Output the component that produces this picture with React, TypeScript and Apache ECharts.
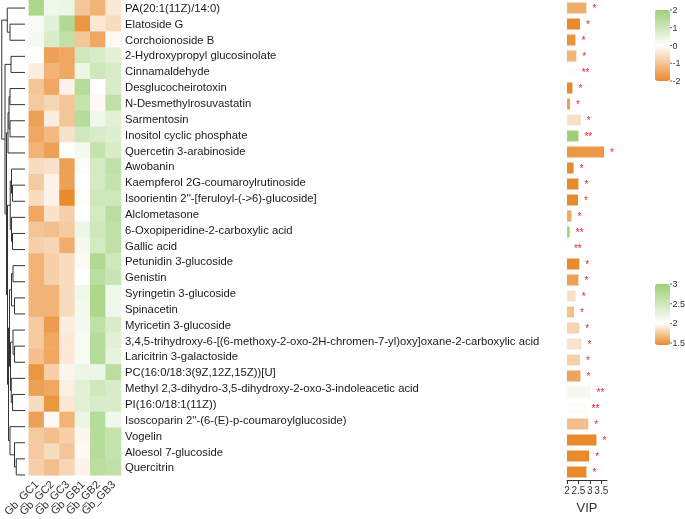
import React, { useEffect, useRef } from "react";
import * as echarts from "echarts";

const rowLabels = [
  "PA(20:1(11Z)/14:0)",
  "Elatoside G",
  "Corchoionoside B",
  "2-Hydroxypropyl glucosinolate",
  "Cinnamaldehyde",
  "Desglucocheirotoxin",
  "N-Desmethylrosuvastatin",
  "Sarmentosin",
  "Inositol cyclic phosphate",
  "Quercetin 3-arabinoside",
  "Awobanin",
  "Kaempferol 2G-coumaroylrutinoside",
  "Isoorientin 2''-[feruloyl-(->6)-glucoside]",
  "Alclometasone",
  "6-Oxopiperidine-2-carboxylic acid",
  "Gallic acid",
  "Petunidin 3-glucoside",
  "Genistin",
  "Syringetin 3-glucoside",
  "Spinacetin",
  "Myricetin 3-glucoside",
  "3,4,5-trihydroxy-6-[(6-methoxy-2-oxo-2H-chromen-7-yl)oxy]oxane-2-carboxylic acid",
  "Laricitrin 3-galactoside",
  "PC(16:0/18:3(9Z,12Z,15Z))[U]",
  "Methyl 2,3-dihydro-3,5-dihydroxy-2-oxo-3-indoleacetic acid",
  "PI(16:0/18:1(11Z))",
  "Isoscoparin 2''-(6-(E)-p-coumaroylglucoside)",
  "Vogelin",
  "Aloesol 7-glucoside",
  "Quercitrin",
];

const colLabels = ["Gb_GC1", "Gb_GC2", "Gb_GC3", "Gb_GB1", "Gb_GB2", "Gb_GB3"];

// z-scores, one row per metabolite, columns in colLabels order
const heatValues: number[][] = [
  [1.7, 0.3, 0.4, -1.0, -1.3, -0.4],
  [0.15, 0.6, 1.6, -1.8, -0.4, -0.6],
  [0.2, 0.8, 1.3, -1.0, -1.5, -0.1],
  [0.0, -1.6, -1.5, 1.0, 0.8, 0.6],
  [-0.3, -1.3, -1.5, 0.4, 1.0, 0.8],
  [-1.0, -1.5, -0.2, 1.5, 0.0, 0.8],
  [-0.9, -0.7, -1.0, 1.2, -0.1, 1.3],
  [-1.6, -0.3, -1.0, 1.5, 0.3, 0.6],
  [-1.5, -1.2, -0.5, 1.0, 0.8, 0.7],
  [-1.3, -1.6, 0.0, 0.2, 1.2, 0.8],
  [-0.6, -0.5, -1.6, -0.05, 0.9, 1.3],
  [-0.9, -0.2, -1.6, 0.0, 0.9, 1.2],
  [-0.6, -0.2, -2.0, 0.05, 1.0, 1.0],
  [-1.5, -0.5, -0.8, 0.0, 0.9, 1.4],
  [-1.0, -1.1, -0.9, 0.4, 1.0, 1.3],
  [-0.8, -0.7, -1.4, 0.2, 0.9, 1.3],
  [-1.3, -0.8, -0.6, -0.1, 1.6, 1.0],
  [-1.3, -0.8, -0.6, 0.0, 1.4, 1.1],
  [-1.3, -1.3, -0.6, 0.3, 1.7, 0.3],
  [-1.3, -1.3, -0.6, 0.2, 1.7, 0.3],
  [-0.9, -1.7, -0.3, 0.2, 1.3, 0.8],
  [-0.9, -1.5, -0.4, 0.15, 1.5, 0.6],
  [-1.1, -1.5, -0.4, 0.15, 1.5, 0.5],
  [-1.8, -0.8, -0.15, 0.4, 0.4, 1.4],
  [-1.6, -1.5, -0.25, 0.6, 1.0, 0.8],
  [-0.6, -1.8, -0.4, 0.6, 0.8, 0.8],
  [-1.6, -0.1, -1.3, 0.4, 1.5, 0.3],
  [-0.9, -1.1, -0.8, -0.15, 1.5, 1.2],
  [-0.9, -0.6, -1.0, -0.1, 1.5, 1.2],
  [-0.8, -1.1, -0.7, -0.2, 1.4, 1.3],
];

const vipValues = [
  2.85, 2.57, 2.37, 2.41, 2.38, 2.24, 2.13, 2.6, 2.5, 3.62,
  2.29, 2.5, 2.48, 2.2, 2.12, 2.04, 2.54, 2.5, 2.38, 2.31,
  2.54, 2.63, 2.57, 2.59, 3.03, 2.81, 2.93, 3.29, 2.97, 2.85,
];

const barScore = [
  1.62, 1.4, 1.5, 1.65, 2.0, 1.35, 1.55, 1.85, 3.0, 1.52,
  1.3, 1.38, 1.28, 1.6, 2.95, 2.0, 1.42, 1.55, 1.85, 1.7,
  1.8, 1.87, 1.78, 1.57, 2.1, 2.05, 1.7, 1.42, 1.43, 1.4,
];

const significance = [
  "*", "*", "*", "*", "**", "*", "*", "*", "**", "*",
  "*", "*", "*", "*", "**", "**", "*", "*", "*", "*",
  "*", "*", "*", "*", "**", "**", "*", "*", "*", "*",
];

const heatTicks = [2, 1, 0, -1, -2];
const scoreTicks = [3, 2.5, 2, 1.5];

// Row dendrogram: [left, right, height]; leaves are row indices
type Node = number | [Node, Node, number];
const dendrogram: Node = [
  [0, [1, 2, 6.0], 7.1],
  [
    [3, 4, 5.6],
    [
      [[[5, 6, 6.0], [7, 8, 6.0], 6.4], 9, 6.8],
      [
        [[10, [11, 12, 5.0], 5.4], [13, [14, 15, 5.0], 5.4], 5.9],
        [
          [
            [[16, 17, 4.8], [18, 19, 4.2], 5.4],
            [[20, [21, 22, 4.2], 4.8], [23, [24, 25, 5.0], 5.5], 5.8],
            6.2,
          ],
          [26, [27, [28, 29, 3.5], 4.2], 6.0],
          6.6,
        ],
        7.0,
      ],
      7.4,
    ],
    8.0,
  ],
  9.3,
];

const ORANGE = [233, 138, 44];
const GREEN = [158, 208, 119];
const mix = (a: number[], b: number[], t: number) =>
  "rgb(" + a.map((v, i) => Math.round(v + (b[i] - v) * t)).join(",") + ")";

export default function App() {
  const ref = useRef<HTMLDivElement>(null);
  useEffect(() => {
    if (!ref.current) return;
    const chart = echarts.init(ref.current, undefined, { renderer: "svg" });

    const heatData: number[][] = [];
    heatValues.forEach((row, r) => row.forEach((v, c) => heatData.push([c, r, v])));

    const barData = vipValues.map((v, i) => [v, i, barScore[i]]);

    // dendrogram segments
    const segs: number[][] = [];
    const walk = (n: Node): [number, number] => {
      if (typeof n === "number") return [n, 0];
      const [y1, h1] = walk(n[0]);
      const [y2, h2] = walk(n[1]);
      const h = n[2];
      segs.push([h1, y1, h, y1]);
      segs.push([h2, y2, h, y2]);
      segs.push([h, y1, h, y2]);
      return [(y1 + y2) / 2, h];
    };
    walk(dendrogram);

    const scoreMin = 1.45, scoreMax = 3.0, scoreMid = 2.0;
    const scoreColors: string[] = [];
    const N = 31;
    for (let k = 0; k < N; k++) {
      const v = scoreMin + ((scoreMax - scoreMin) * k) / (N - 1);
      if (v <= scoreMid) scoreColors.push(mix(ORANGE, [255, 255, 255], (v - scoreMin) / (scoreMid - scoreMin)));
      else scoreColors.push(mix([255, 255, 255], GREEN, (v - scoreMid) / (scoreMax - scoreMid)));
    }

    const gridTop = 0, gridH = 483;
    const leg1Top = 10, leg1H = 71;
    const leg2Top = 284, leg2H = 61;

    const graphics: any[] = [];
    const tickText = (t: number, y: number) => {
      graphics.push({ type: "line", shape: { x1: 670, y1: y, x2: 672, y2: y }, style: { stroke: "#666", lineWidth: 1 } });
      graphics.push({ type: "text", x: 672.5, y, style: { text: String(t), fontSize: 9, fill: "#333", verticalAlign: "middle", fontFamily: "Liberation Sans, Arial" } });
    };
    heatTicks.forEach((t) => tickText(t, leg1Top + ((2 - t) / 4) * leg1H));
    scoreTicks.forEach((t) => tickText(t, leg2Top + ((scoreMax - t) / (scoreMax - scoreMin)) * leg2H));

    chart.setOption({
      animation: false,
      textStyle: { fontFamily: "Liberation Sans, Arial, sans-serif" },
      grid: [
        { left: 26, top: gridTop, width: 95, height: gridH },
        { left: 567, top: gridTop, width: 40, height: gridH },
        { left: 0, top: gridTop, width: 25, height: gridH },
      ],
      xAxis: [
        {
          type: "category", gridIndex: 0, data: colLabels,
          axisLine: { show: false }, axisTick: { show: false },
          axisLabel: { rotate: 45, fontSize: 11, color: "#333", margin: 7, interval: 0 },
        },
        {
          type: "value", gridIndex: 1, min: 2, max: 3.75, interval: 0.5,
          splitLine: { show: false },
          axisLine: { show: true, onZero: false, lineStyle: { color: "#333" } },
          axisTick: { show: true, length: 4, lineStyle: { color: "#333" } },
          axisLabel: { fontSize: 10, color: "#333", margin: 5, showMaxLabel: false },
          name: "VIP", nameLocation: "middle", nameGap: 21,
          nameTextStyle: { fontSize: 13, color: "#333" },
        },
        { type: "value", gridIndex: 2, min: 0, max: 10, inverse: true, show: false },
      ],
      yAxis: [
        {
          type: "category", gridIndex: 0, data: rowLabels, inverse: true, position: "right",
          axisLine: { show: false }, axisTick: { show: false },
          axisLabel: { fontSize: 11.3, color: "#1a1a1a", margin: 4, interval: 0 },
        },
        { type: "category", gridIndex: 1, data: rowLabels, inverse: true, show: false },
        { type: "value", gridIndex: 2, min: -0.5, max: 29.5, inverse: true, show: false },
      ],
      visualMap: [
        {
          type: "continuous", seriesIndex: 0, dimension: 2, min: -2, max: 2,
          inRange: { color: [mix(ORANGE, ORANGE, 0), "#ffffff", mix(GREEN, GREEN, 0)] },
          calculable: false, left: 655, top: leg1Top, itemWidth: 15, itemHeight: leg1H,
          padding: 0, text: ["", ""], showLabel: false, textGap: 0,
        },
        {
          type: "continuous", seriesIndex: 1, dimension: 2, min: scoreMin, max: scoreMax,
          inRange: { color: scoreColors },
          calculable: false, left: 655, top: leg2Top, itemWidth: 15, itemHeight: leg2H,
          padding: 0, text: ["", ""], showLabel: false, textGap: 0,
        },
      ],
      series: [
        {
          type: "heatmap", xAxisIndex: 0, yAxisIndex: 0, data: heatData,
          itemStyle: { borderWidth: 0 },
        },
        {
          type: "bar", xAxisIndex: 1, yAxisIndex: 1, data: barData,
          encode: { x: 0, y: 1 }, barWidth: 11,
          label: {
            show: true, position: "right", distance: 6,
            formatter: (p: any) => significance[p.dataIndex],
            color: "#e8262a", fontSize: 10,
          },
        },
        {
          type: "custom", xAxisIndex: 2, yAxisIndex: 2, data: segs,
          encode: { x: [0, 2], y: [1, 3] },
          renderItem: (_params: any, api: any) => {
            const p1 = api.coord([api.value(0), api.value(1)]);
            const p2 = api.coord([api.value(2), api.value(3)]);
            return {
              type: "line",
              shape: { x1: p1[0], y1: p1[1], x2: p2[0], y2: p2[1] },
              style: { stroke: "#333", lineWidth: 1 },
            };
          },
        },
      ],
      graphic: graphics,
    });
    return () => chart.dispose();
  }, []);
  return <div ref={ref} style={{ width: 685, height: 519, position: "fixed", left: 0, top: 0 }} />;
}
